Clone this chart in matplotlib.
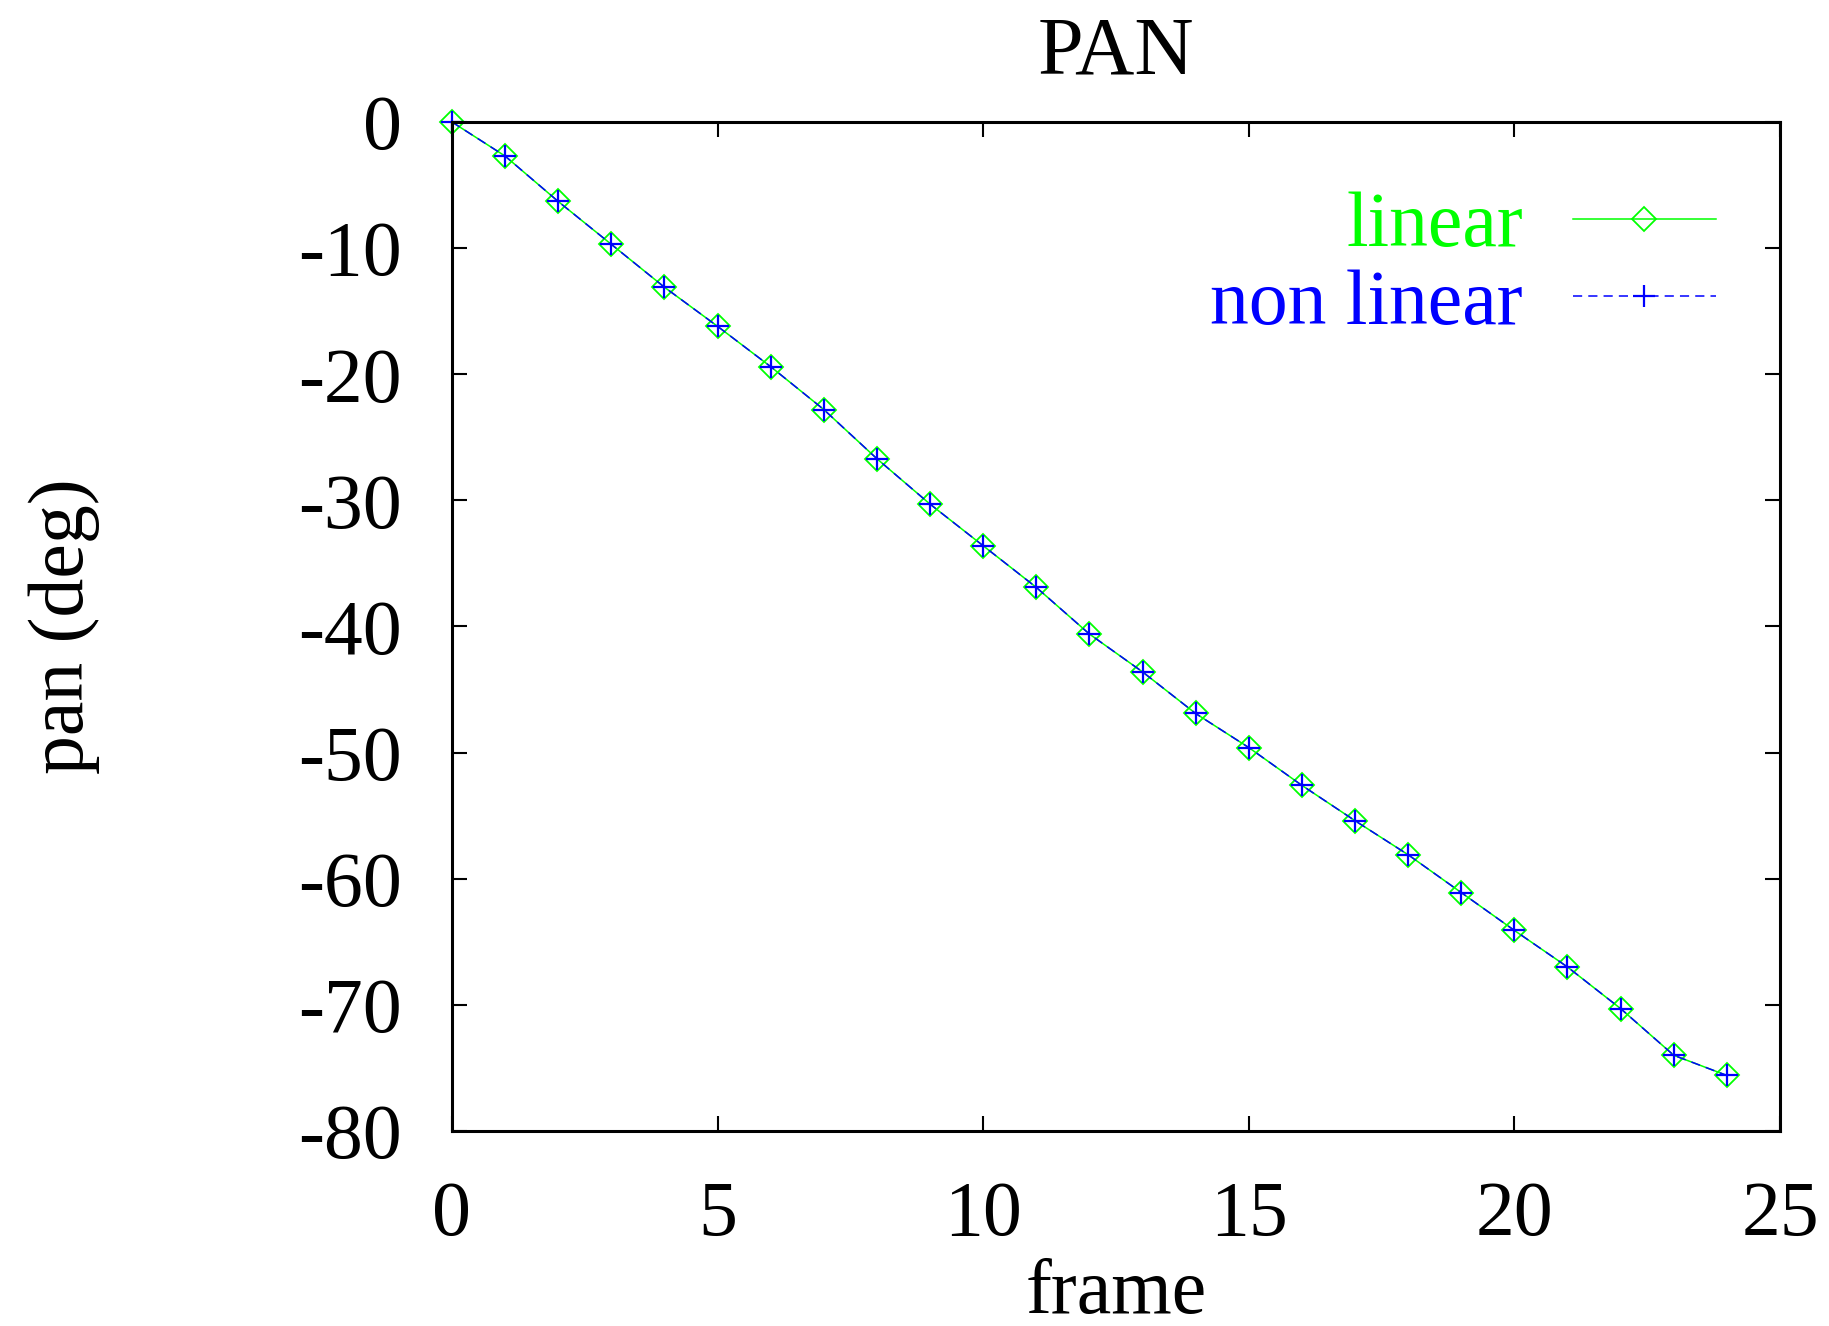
import numpy as np
import matplotlib
matplotlib.use("Agg")
import matplotlib.pyplot as plt

plt.rcParams['font.family'] = ['Liberation Serif', 'DejaVu Serif']
plt.rcParams['font.size'] = 56
plt.rcParams['axes.unicode_minus'] = False

# values
frames = list(range(25))
pan_linear = [0.0, -2.7, -6.3, -9.7, -13.1, -16.2, -19.4, -22.8, -26.7, -30.3,
              -33.6, -36.9, -40.6, -43.6, -46.9, -49.6, -52.6, -55.4, -58.1,
              -61.1, -64.1, -67.0, -70.3, -74.0, -75.6]
pan_nonlinear = [0.0, -2.7, -6.3, -9.7, -13.1, -16.2, -19.4, -22.8, -26.7, -30.3,
                 -33.6, -36.9, -40.6, -43.6, -46.9, -49.6, -52.6, -55.4, -58.1,
                 -61.1, -64.1, -67.0, -70.3, -74.0, -75.6]

fig = plt.figure(figsize=(18.29, 13.26), dpi=100)
ax = fig.add_axes([0.2471, 0.1471, 0.7261, 0.7609])

ax.plot(frames, pan_linear, color=(0, 1, 0), lw=1.1, marker='D', ms=12,
        mfc='none', mec=(0, 1, 0), mew=1.3, label='linear', clip_on=False)
ax.plot(frames, pan_nonlinear, color=(0, 0, 1), lw=1.1, ls=(0, (6, 4)),
        marker='+', ms=16, mew=1.6, label='non linear', clip_on=False)

ax.set_xlim(0, 25)
ax.set_ylim(-80, 0)
ax.set_xticks([0, 5, 10, 15, 20, 25])
ax.set_yticks(np.arange(-80, 1, 10))
ax.tick_params(direction='in', length=11, width=1.5, top=True, right=True)
ax.tick_params(axis='x', pad=36)
ax.tick_params(axis='y', pad=36)
for s in ax.spines.values():
    s.set_linewidth(2.2)

ax.set_title('PAN', pad=35, fontsize=59)
ax.set_xlabel('frame')
ax.xaxis.set_label_coords(0.5, -0.126)
ax.set_ylabel('pan (deg)')
ax.yaxis.set_label_coords(-0.265, 0.5)

leg = ax.legend(loc='upper right', bbox_to_anchor=(0.975, 0.962), frameon=False,
                markerfirst=False, handlelength=1.84, handletextpad=0.64,
                labelspacing=0.08, borderaxespad=0)
for t, c in zip(leg.get_texts(), [(0, 1, 0), (0, 0, 1)]):
    t.set_color(c)
    t.set_ha('right')

fig.savefig('out.png', dpi=100)
